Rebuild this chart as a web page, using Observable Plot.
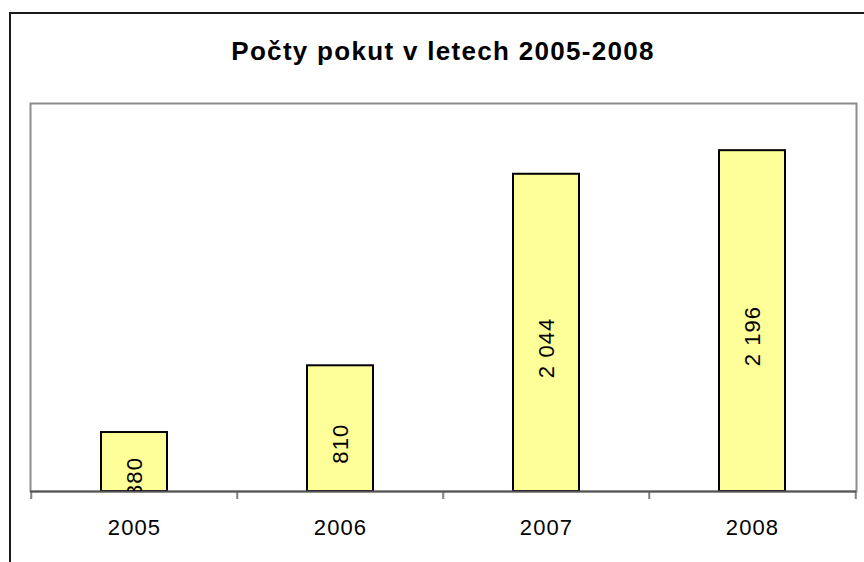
<!DOCTYPE html>
<html>
<head>
<meta charset="utf-8">
<script src="https://cdn.jsdelivr.net/npm/d3@7"></script>
<script src="https://cdn.jsdelivr.net/npm/@observablehq/plot@0.6"></script>
<style>
  html, body { margin: 0; padding: 0; background: #fff; }
  #wrap { position: relative; width: 864px; height: 562px; overflow: hidden; font-family: "Liberation Sans", Arial, sans-serif; }
  #outer { position: absolute; left: 9px; top: 12px; width: 900px; height: 600px; border-top: 2px solid #1a1a1a; border-left: 2px solid #1a1a1a; }
  #title { position: absolute; left: 30px; width: 826px; top: 0; height: 80px; box-sizing: border-box; padding-top: 36px; line-height: 30px; text-align: center; font-weight: bold; font-size: 26px; letter-spacing: 1.3px; color: #000; }
  #chart { position: absolute; left: 0; top: 80px; }
  #chart svg text { letter-spacing: 1.1px; }
</style>
</head>
<body>
<div id="wrap">
  <div id="outer"></div>
  <div id="title">Počty pokut v letech 2005-2008</div>
  <div id="chart"></div>
</div>
<script>
const years = ["2005", "2006", "2007", "2008"];
const counts = [380, 810, 2044, 2196];
const title = "Počty pokut v letech 2005-2008";

const data = years.map((year, i) => ({year, count: counts[i]}));
const fmt = d3.formatLocale({decimal: ",", thousands: "\u00a0", grouping: [3], currency: ["", ""]}).format(",d");

const width = 864, height = 482;
const marginLeft = 30, marginRight = 8, marginTop = 23, marginBottom = 71;
const plotH = height - marginTop - marginBottom;
const step = (width - marginLeft - marginRight) / years.length;

const chart = Plot.plot({
  width, height, marginLeft, marginRight, marginTop, marginBottom,
  x: {domain: years, paddingInner: 0.68, paddingOuter: 0.34, axis: null},
  y: {domain: [0, 2500], axis: null},
  style: {fontFamily: "'Liberation Sans', Arial, sans-serif", fontSize: "22px", color: "#000", background: "transparent", overflow: "visible"},
  marks: [
    Plot.frame({stroke: "#8c8c8c", strokeWidth: 2}),
    Plot.barY(data, {x: "year", y: "count", fill: "#FFFF99", stroke: "#000", strokeWidth: 2}),
    Plot.ruleX(years, {dx: -step / 2, insetTop: plotH, insetBottom: -8, stroke: "#808080", strokeWidth: 2}),
    Plot.ruleX(years.slice(-1), {dx: step / 2, insetTop: plotH, insetBottom: -8, stroke: "#808080", strokeWidth: 2}),
    Plot.ruleY([0], {stroke: "#555", strokeWidth: 2}),
    Plot.axisX({tickSize: 0, tickPadding: 28, fontSize: 22, label: null}),
    Plot.text(data, {x: "year", y: d => d.count / 2, text: d => fmt(d.count), rotate: -90, dy: 15, fontSize: 22, fill: "#000", clip: "frame"})
  ]
});
document.getElementById("chart").appendChild(chart);
</script>
</body>
</html>
